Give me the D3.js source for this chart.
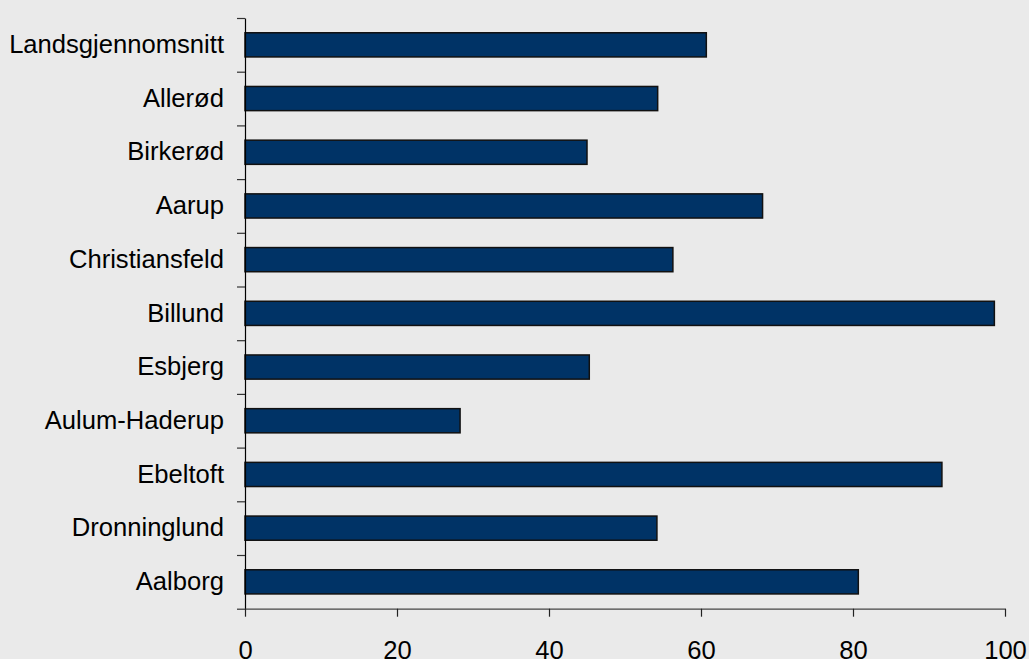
<!DOCTYPE html>
<html>
<head>
<meta charset="utf-8">
<script src="https://cdn.jsdelivr.net/npm/d3@7"></script>
<style>
  html, body { margin: 0; padding: 0; background: #eaeaea; }
  svg { display: block; }
  .lbl text { font-family: "Liberation Sans", Arial, sans-serif; font-size: 25.6px; fill: #000; }
</style>
</head>
<body>
<div id="chart"></div>
<script>
var categories = ["Landsgjennomsnitt", "Allerød", "Birkerød", "Aarup", "Christiansfeld",
  "Billund", "Esbjerg", "Aulum-Haderup", "Ebeltoft", "Dronninglund", "Aalborg"];
var values = [60.7, 54.3, 45.0, 68.1, 56.3, 98.6, 45.3, 28.3, 91.7, 54.2, 80.7];
var xTicks = [0, 20, 40, 60, 80, 100];

var svgWidth = 1029;
var svgHeight = 659;
var margin = { top: 18, right: 24, bottom: 50, left: 245 };
var width = svgWidth - margin.left - margin.right;
var height = 608.7 - margin.top;

var svg = d3.select("#chart")
  .append("svg")
  .attr("width", svgWidth)
  .attr("height", svgHeight);

var chartGroup = svg.append("g")
  .attr("transform", `translate(${margin.left}, ${margin.top})`);

// scales
var xScale = d3.scaleLinear().domain([0, 100]).range([0, width]);
var yScale = d3.scaleBand()
  .domain(categories)
  .range([0, height])
  .paddingInner(0.55)
  .paddingOuter(0.275);
var yEdge = d3.scaleLinear().domain([0, categories.length]).range([0, height]);

// bars
chartGroup.selectAll("rect.bar")
  .data(categories)
  .enter()
  .append("rect")
  .attr("class", "bar")
  .attr("x", 0)
  .attr("y", d => yScale(d))
  .attr("width", (d, i) => xScale(values[i]))
  .attr("height", yScale.bandwidth())
  .attr("fill", "#003366")
  .attr("stroke", "#111")
  .attr("stroke-width", 1.5);

// y axis: ticks at category boundaries
var yAxisG = chartGroup.append("g")
  .call(d3.axisLeft(yEdge).tickValues(d3.range(categories.length + 1)).tickFormat("").tickSize(8).tickSizeOuter(0));
yAxisG.select(".domain").attr("stroke", "#000").attr("stroke-width", 1.2);
yAxisG.selectAll(".tick line").attr("stroke", "#333").attr("stroke-width", 1.2);

// category labels
var labelG = chartGroup.append("g")
  .attr("class", "lbl")
  .call(d3.axisLeft(yScale).tickSize(0).tickPadding(21));
labelG.select(".domain").remove();
labelG.selectAll("text").attr("font-family", null).attr("font-size", null);

// x axis
var xAxisG = chartGroup.append("g")
  .attr("class", "lbl")
  .attr("transform", `translate(0, ${height})`)
  .call(d3.axisBottom(xScale).tickValues(xTicks).tickSize(8).tickSizeOuter(0));
xAxisG.select(".domain").attr("stroke", "#444").attr("stroke-width", 1.2);
xAxisG.selectAll(".tick line").attr("stroke", "#222").attr("stroke-width", 1.2);
xAxisG.selectAll("text")
  .attr("font-family", null).attr("font-size", null)
  .attr("y", 50).attr("dy", 0);
</script>
</body>
</html>
